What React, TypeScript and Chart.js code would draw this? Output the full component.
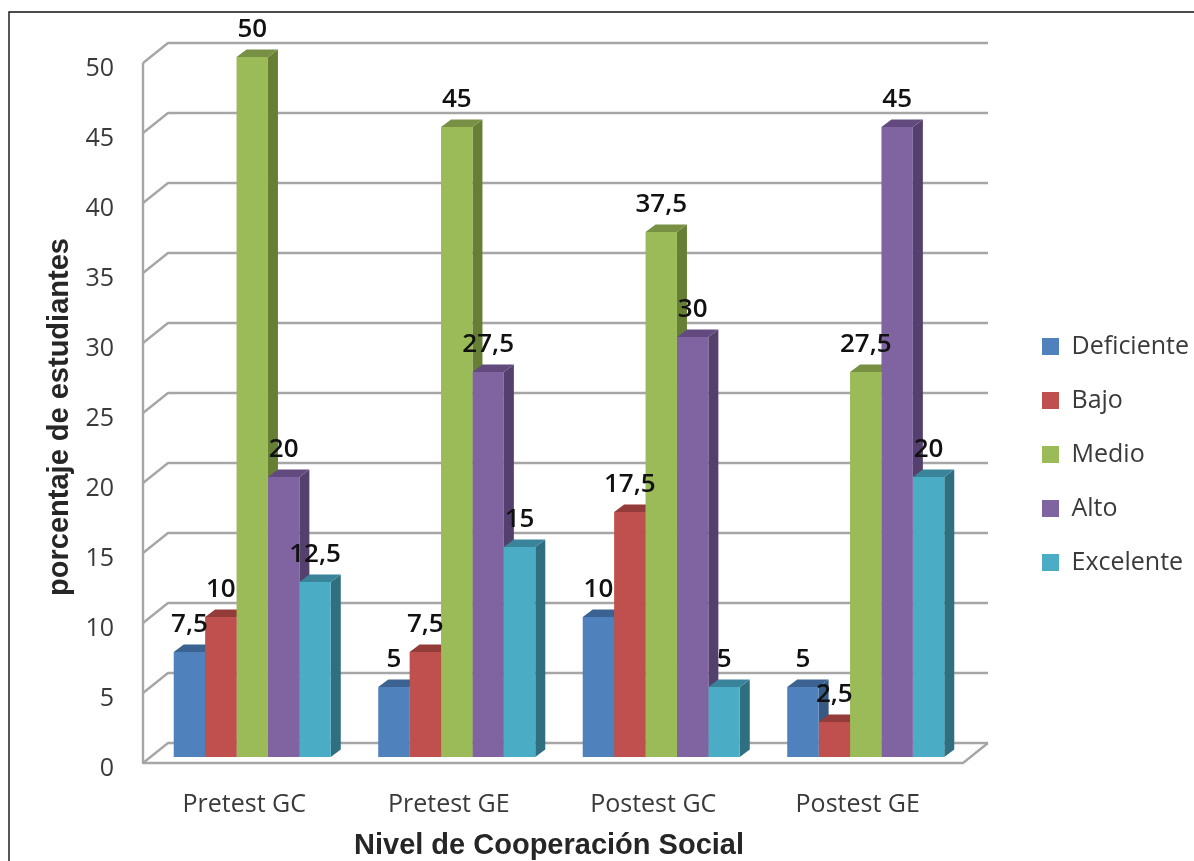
import React, { useEffect, useRef } from "react";
import { Chart, registerables } from "chart.js";

Chart.register(...registerables);

const categories = ["Pretest GC", "Pretest GE", "Postest GC", "Postest GE"];
const deficiente = [7.5, 5, 10, 5];
const bajo = [10, 7.5, 17.5, 2.5];
const medio = [50, 45, 37.5, 27.5];
const alto = [20, 27.5, 30, 45];
const excelente = [12.5, 15, 5, 20];

const seriesNames = ["Deficiente", "Bajo", "Medio", "Alto", "Excelente"];
const seriesValues = [deficiente, bajo, medio, alto, excelente];
const frontColors = ["#4F81BD", "#C0504D", "#9BBB59", "#8064A2", "#4BACC6"];
const topColors = ["#3B6290", "#933C3A", "#779043", "#62497E", "#39849A"];
const sideColors = ["#375A84", "#853735", "#677F35", "#54406C", "#2F6F80"];

const GRID_COLOR = "#A6A6A6";
const TEXT_COLOR = "#3A3A3A";
const SANS = '"Open Sans", sans-serif';
const BAR_DEPTH = { dx: 10, dy: 7.5 };
const WALL_FRONT = { dx: -7, dy: 6 };
const WALL_BACK = { dx: 18, dy: -14 };
const FLOOR_RIGHT = 963;

const formatValue = (v: number) => String(v).replace(".", ",");

// Shifts a scale's native title without changing the plot area it is centred on.
function nudgeTitle(scale: any, dx: number, dy: number) {
  const drawTitle = scale.drawTitle;
  scale.drawTitle = function () {
    const ctx = this.ctx;
    ctx.save();
    ctx.translate(dx, dy);
    drawTitle.call(this);
    ctx.restore();
  };
}

const frame3d = {
  id: "frame3d",
  afterLayout(chart: any) {
    const legend = chart.legend;
    legend.left = 1013;
    legend.right = 1194;
    legend.top = 305;
    legend.bottom = 800;
    nudgeTitle(chart.scales.x, -10, 2);
    nudgeTitle(chart.scales.y, 0, 10);
  },
  beforeDraw(chart: any) {
    const { ctx } = chart;
    ctx.save();
    ctx.strokeStyle = "#111111";
    ctx.lineWidth = 1.4;
    ctx.beginPath();
    ctx.moveTo(9, 861);
    ctx.lineTo(9, 12);
    ctx.lineTo(1194, 12);
    ctx.stroke();
    ctx.restore();
  },
  beforeDatasetsDraw(chart: any) {
    const { ctx, scales } = chart;
    const { x: xScale, y: yScale } = scales;
    const xFront = xScale.left + WALL_FRONT.dx;
    const xBack = xScale.left + WALL_BACK.dx;
    const xBackEnd = FLOOR_RIGHT + WALL_BACK.dx - WALL_FRONT.dx;

    ctx.save();
    ctx.strokeStyle = GRID_COLOR;
    ctx.lineWidth = 2.4;
    ctx.lineJoin = "round";
    for (const tick of yScale.ticks) {
      const py = yScale.getPixelForValue(tick.value);
      ctx.beginPath();
      ctx.moveTo(xFront, py + WALL_FRONT.dy);
      ctx.lineTo(xBack, py + WALL_BACK.dy);
      ctx.lineTo(xBackEnd, py + WALL_BACK.dy);
      ctx.stroke();
    }
    const y0 = yScale.getPixelForValue(0);
    const y50 = yScale.getPixelForValue(50);
    ctx.beginPath();
    ctx.moveTo(xFront, y50 + WALL_FRONT.dy);
    ctx.lineTo(xFront, y0 + WALL_FRONT.dy);
    ctx.lineTo(FLOOR_RIGHT, y0 + WALL_FRONT.dy);
    ctx.lineTo(xBackEnd, y0 + WALL_BACK.dy);
    ctx.stroke();

    // Top and side faces go down first, left to right, so each front face covers its neighbour's side.
    const { dx, dy } = BAR_DEPTH;
    for (let c = 0; c < categories.length; c++) {
      for (let s = 0; s < seriesValues.length; s++) {
        const bar = chart.getDatasetMeta(s).data[c];
        const { x, y, base, width } = bar.getProps(["x", "y", "base", "width"], true);
        const l = x - width / 2;
        const r = x + width / 2;
        ctx.fillStyle = sideColors[s];
        ctx.beginPath();
        ctx.moveTo(r, y);
        ctx.lineTo(r + dx, y - dy);
        ctx.lineTo(r + dx, base - dy);
        ctx.lineTo(r, base);
        ctx.closePath();
        ctx.fill();
        ctx.fillStyle = topColors[s];
        ctx.beginPath();
        ctx.moveTo(l, y);
        ctx.lineTo(l + dx, y - dy);
        ctx.lineTo(r + dx, y - dy);
        ctx.lineTo(r, y);
        ctx.closePath();
        ctx.fill();
      }
    }
    ctx.restore();
  },
  afterDatasetsDraw(chart: any) {
    const { ctx } = chart;
    ctx.save();
    ctx.fillStyle = "#111111";
    ctx.font = `600 26px ${SANS}`;
    ctx.textAlign = "center";
    ctx.textBaseline = "middle";
    seriesValues.forEach((values, s) => {
      values.forEach((value, c) => {
        const bar = chart.getDatasetMeta(s).data[c];
        ctx.fillText(formatValue(value), bar.x, bar.y - 27);
      });
    });
    ctx.restore();
  },
};

export default function App() {
  const canvasRef = useRef<HTMLCanvasElement>(null);

  useEffect(() => {
    const chart = new Chart(canvasRef.current!, {
      type: "bar",
      data: {
        labels: categories,
        datasets: seriesNames.map((label, i) => ({
          label,
          data: seriesValues[i],
          backgroundColor: frontColors[i],
          borderWidth: 0,
          barPercentage: 1,
          categoryPercentage: 0.768,
        })),
      },
      options: {
        responsive: false,
        animation: false,
        layout: { padding: { left: 0, top: 57, right: 226, bottom: 0 } },
        scales: {
          x: {
            grid: { display: false, drawTicks: false },
            border: { display: false },
            ticks: {
              color: TEXT_COLOR,
              font: { family: SANS, size: 25 },
              padding: 33,
              maxRotation: 0,
              labelOffset: -8,
            },
            title: {
              display: true,
              text: "Nivel de Cooperación Social",
              color: "#262626",
              font: { family: '"Liberation Sans", sans-serif', size: 29, weight: "bold" },
              padding: { top: 4, bottom: 0 },
            },
            afterFit(scale: any) {
              scale.height = 104;
            },
          },
          y: {
            min: 0,
            max: 50,
            grid: { display: false, drawTicks: false },
            border: { display: false },
            ticks: { stepSize: 5, color: TEXT_COLOR, font: { family: SANS, size: 25 }, padding: 36, labelOffset: 12 },
            title: {
              display: true,
              text: "porcentaje de estudiantes",
              color: "#262626",
              font: { family: '"Liberation Sans", sans-serif', size: 29, weight: "bold" },
              padding: { top: 43, bottom: 4 },
            },
            afterFit(scale: any) {
              scale.width = 150;
            },
          },
        },
        plugins: {
          title: { display: false },
          tooltip: { enabled: false },
          legend: {
            position: "chartArea",
            align: "start",
            labels: {
              boxWidth: 17,
              boxHeight: 17,
              padding: 29,
              color: TEXT_COLOR,
              font: { family: SANS, size: 25 },
            },
          },
        },
      },
      plugins: [frame3d],
    } as any);
    return () => chart.destroy();
  }, []);

  return (
    <canvas
      ref={canvasRef}
      width={1194}
      height={861}
      style={{ position: "absolute", left: 0, top: 0, display: "block" }}
    />
  );
}
